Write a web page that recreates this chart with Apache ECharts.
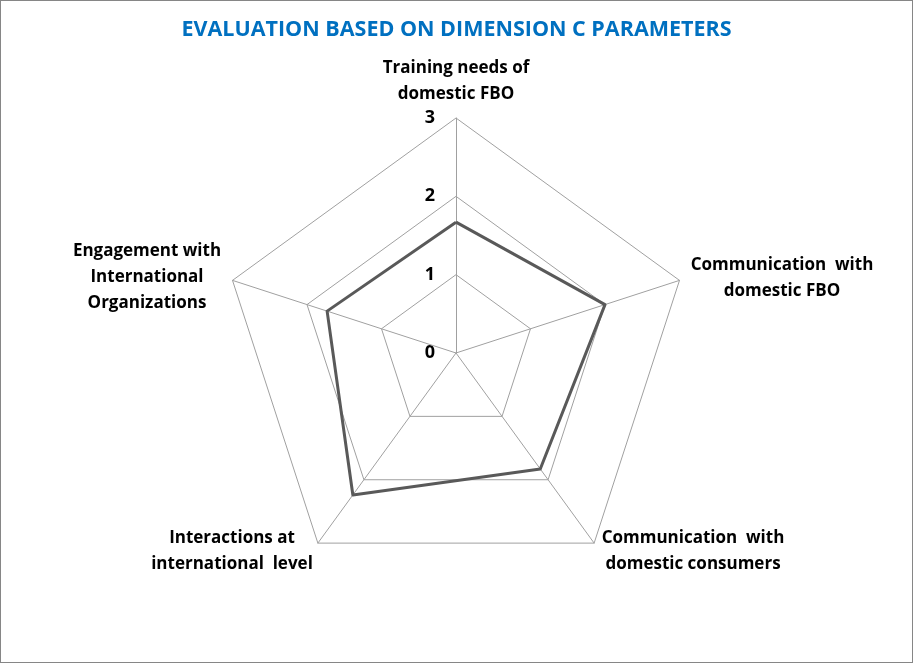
<!DOCTYPE html>
<html>
<head>
<meta charset="utf-8">
<script src="https://cdn.jsdelivr.net/npm/echarts@6/dist/echarts.min.js"></script>
<style>
  html, body { margin: 0; padding: 0; background: #fff; }
  #main { width: 911px; height: 661px; border: 1px solid #868686; }
</style>
</head>
<body>
<div id="main"></div>
<script>
// indicators listed counterclockwise from the top
const indicatorNames = [
    'Training needs of\ndomestic FBO',
    'Engagement with\nInternational\nOrganizations',
    'Interactions at\ninternational  level',
    'Communication  with\ndomestic consumers',
    'Communication  with\ndomestic FBO'
]
const scores = [1.67, 1.73, 2.24, 1.83, 2.0]
const tickLabels = ['0', '1', '2', '3']
const maxScore = 3

const cx = 455, cy = 352, radius = 235
const labelFont = 'bold 17px "Open Sans", sans-serif'

// where each axis name block is centred
const namePlaces = [
    {x: 455, y: 80},
    {x: 146, y: 276},
    {x: 231, y: 550},
    {x: 692, y: 550},
    {x: 781, y: 277}
]

const chart = echarts.init(document.getElementById('main'))

let graphics = []
indicatorNames.forEach((name, i) => {
    graphics.push({
        type: 'text',
        x: namePlaces[i].x,
        y: namePlaces[i].y,
        style: {
            text: name,
            font: labelFont,
            fill: '#000',
            align: 'center',
            verticalAlign: 'middle',
            lineHeight: 26
        }
    })
})
tickLabels.forEach((t, i) => {
    graphics.push({
        type: 'text',
        x: cx - 21,
        y: cy - radius * (+t) / maxScore,
        style: {
            text: t,
            font: 'bold 18px "Open Sans", sans-serif',
            fill: '#000',
            align: 'right',
            verticalAlign: 'middle'
        }
    })
})

chart.setOption({
    animation: false,
    title: {
        text: 'EVALUATION BASED ON DIMENSION C PARAMETERS',
        left: 'center',
        top: 13,
        textStyle: {
            color: '#0070C0',
            fontWeight: 'bold',
            fontSize: 21.5,
            fontFamily: '"Open Sans", sans-serif'
        }
    },
    radar: {
        center: [cx, cy],
        radius: radius,
        startAngle: 90,
        shape: 'polygon',
        splitNumber: 3,
        indicator: indicatorNames.map(n => ({name: n, min: 0, max: maxScore})),
        axisName: {show: false},
        splitArea: {show: false},
        splitLine: {lineStyle: {color: '#a0a0a0', width: 1}},
        axisLine: {lineStyle: {color: '#a0a0a0', width: 1}},
        axisTick: {show: false},
        axisLabel: {show: false}
    },
    graphic: graphics,
    series: [{
        type: 'radar',
        symbol: 'none',
        lineStyle: {color: '#595959', width: 3},
        data: [{value: scores, name: 'Dimension C'}]
    }]
})
</script>
</body>
</html>
